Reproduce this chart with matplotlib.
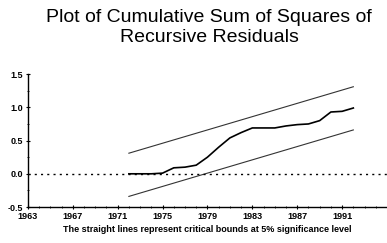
import numpy as np
import matplotlib
matplotlib.use('Agg')
import matplotlib.pyplot as plt
from matplotlib.ticker import MultipleLocator

plt.rcParams['font.family'] = ['Liberation Sans', 'DejaVu Sans']

# CUSUM of squares
years = [1972, 1973, 1974, 1975, 1976, 1977, 1978, 1979, 1980, 1981, 1982,
         1983, 1984, 1985, 1986, 1987, 1988, 1989, 1990, 1991, 1992]
cusumsq = [0.00, 0.00, 0.00, 0.01, 0.09, 0.10, 0.13, 0.25, 0.40, 0.54, 0.62,
           0.69, 0.69, 0.69, 0.72, 0.74, 0.75, 0.80, 0.93, 0.94, 0.99]

# 5% critical bounds (straight lines)
bound_years = [1972, 1992]
upper_bound = [0.31, 1.31]
lower_bound = [-0.34, 0.66]

tick_years = [1963, 1967, 1971, 1975, 1979, 1983, 1987, 1991]

fig = plt.figure(figsize=(3.87, 2.43), dpi=100)
ax = fig.add_axes([0.072, 0.148, 0.928, 0.547])

ax.plot(bound_years, upper_bound, color='#333333', lw=0.8)
ax.plot(bound_years, lower_bound, color='#333333', lw=0.8)
ax.plot(years, cusumsq, color='black', lw=1.2)
ax.axhline(0, color='black', lw=1.0, ls=(0, (1.5, 3)))

ax.set_xlim(1963, 1995)
ax.set_ylim(-0.5, 1.5)
ax.set_xticks(tick_years)
ax.set_xticklabels([str(y) for y in tick_years])
ax.xaxis.set_minor_locator(MultipleLocator(1))
ax.set_yticks([-0.5, 0.0, 0.5, 1.0, 1.5])
ax.set_yticklabels(['-0.5', '0.0', '0.5', '1.0', '1.5'])
ax.yaxis.set_minor_locator(MultipleLocator(0.25))

for side in ['top', 'right']:
    ax.spines[side].set_visible(False)
for side in ['left', 'bottom']:
    ax.spines[side].set_linewidth(1.0)

ax.tick_params(axis='both', which='major', labelsize=6.5, length=3, width=0.8,
               direction='inout', pad=2)
ax.tick_params(axis='both', which='minor', length=1.5, width=0.6, direction='inout')
for lab in ax.get_xticklabels() + ax.get_yticklabels():
    lab.set_fontweight('bold')

ax.set_xlabel('The straight lines represent critical bounds at 5% significance level',
              fontsize=6.5, fontweight='bold', labelpad=3)

fig.text(0.54, 0.93, 'Plot of Cumulative Sum of Squares of', ha='center', va='center',
         fontsize=14)
fig.text(0.54, 0.845, 'Recursive Residuals', ha='center', va='center', fontsize=14)

fig.savefig('out.png', dpi=100)
